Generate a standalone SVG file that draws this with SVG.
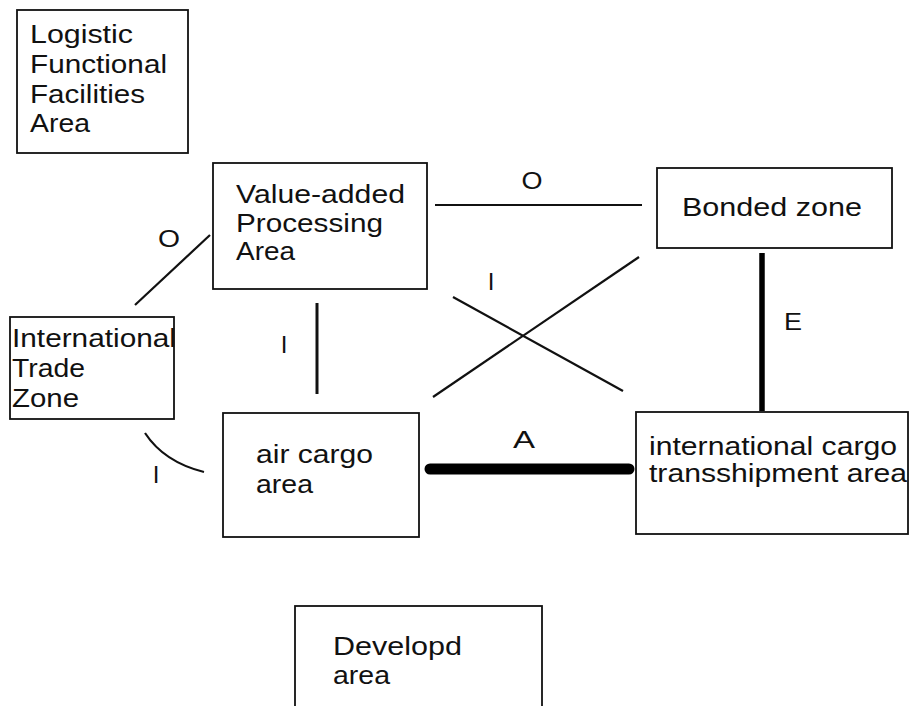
<svg xmlns="http://www.w3.org/2000/svg" width="911" height="706" viewBox="0 0 911 706">
  <style>
    .box { fill: #fff; stroke: #111; stroke-width: 1.8; }
    .txt { font-family: "Liberation Sans", Arial, Helvetica, sans-serif; font-size: 25.5px; fill: #111; }
    .lbl { font-family: "Liberation Sans", Arial, Helvetica, sans-serif; font-size: 24px; fill: #111; }
    .thin { stroke: #111; stroke-width: 2.2; fill: none; }
    .mid { stroke: #111; stroke-width: 3; fill: none; }
    .bold { stroke: #000; stroke-width: 5.5; fill: none; }
    .heavy { stroke: #000; stroke-width: 11; stroke-linecap: round; fill: none; }
  </style>
  <rect width="911" height="706" fill="#fff"/>

  <!-- relationships between the areas -->
  <g id="connectors">
    <line class="thin" x1="135" y1="305" x2="210" y2="235"/>
    <line class="thin" x1="435" y1="205" x2="642" y2="205"/>
    <line class="mid" x1="317" y1="303" x2="317" y2="394"/>
    <line class="thin" x1="453" y1="297" x2="623" y2="391"/>
    <line class="thin" x1="433" y1="397" x2="639" y2="257"/>
    <line class="bold" x1="762" y1="253" x2="762" y2="411"/>
    <path class="thin" d="M145 433 Q164 462 204 472" stroke-width="2.8"/>
    <line class="heavy" x1="430" y1="469" x2="629" y2="469"/>

    <text class="lbl" x="169" y="247" text-anchor="middle" textLength="22" lengthAdjust="spacingAndGlyphs">O</text>
    <text class="lbl" x="532" y="189" text-anchor="middle" textLength="21" lengthAdjust="spacingAndGlyphs">O</text>
    <text class="lbl" x="491" y="290" text-anchor="middle">I</text>
    <text class="lbl" x="284" y="353" text-anchor="middle">I</text>
    <text class="lbl" x="156" y="483" text-anchor="middle">I</text>
    <text class="lbl" x="793" y="330" text-anchor="middle" textLength="18" lengthAdjust="spacingAndGlyphs">E</text>
    <text class="lbl" x="524" y="448" text-anchor="middle" textLength="22" lengthAdjust="spacingAndGlyphs">A</text>
  </g>

  <g id="logistic-area">
    <rect class="box" x="17" y="10" width="171" height="143"/>
    <text class="txt" x="30" y="43" textLength="103" lengthAdjust="spacingAndGlyphs">Logistic</text>
    <text class="txt" x="30" y="73" textLength="137" lengthAdjust="spacingAndGlyphs">Functional</text>
    <text class="txt" x="30" y="103" textLength="115" lengthAdjust="spacingAndGlyphs">Facilities</text>
    <text class="txt" x="30" y="132" textLength="60" lengthAdjust="spacingAndGlyphs">Area</text>
  </g>

  <g id="value-added">
    <rect class="box" x="213" y="163" width="214" height="126"/>
    <text class="txt" x="236" y="203" textLength="169" lengthAdjust="spacingAndGlyphs">Value-added</text>
    <text class="txt" x="236" y="232" textLength="147" lengthAdjust="spacingAndGlyphs">Processing</text>
    <text class="txt" x="236" y="260" textLength="59" lengthAdjust="spacingAndGlyphs">Area</text>
  </g>

  <g id="bonded-zone">
    <rect class="box" x="657" y="168" width="235" height="80"/>
    <text class="txt" x="682" y="216" textLength="180" lengthAdjust="spacingAndGlyphs">Bonded zone</text>
  </g>

  <g id="trade-zone">
    <rect class="box" x="10" y="317" width="164" height="102"/>
    <text class="txt" x="12" y="347" textLength="164" lengthAdjust="spacingAndGlyphs">International</text>
    <text class="txt" x="12" y="377" textLength="73" lengthAdjust="spacingAndGlyphs">Trade</text>
    <text class="txt" x="12" y="407" textLength="67" lengthAdjust="spacingAndGlyphs">Zone</text>
  </g>

  <g id="air-cargo">
    <rect class="box" x="223" y="413" width="196" height="124"/>
    <text class="txt" x="256" y="463" textLength="117" lengthAdjust="spacingAndGlyphs">air cargo</text>
    <text class="txt" x="256" y="493" textLength="57" lengthAdjust="spacingAndGlyphs">area</text>
  </g>

  <g id="transshipment">
    <rect class="box" x="636" y="412" width="272" height="122"/>
    <text class="txt" x="649" y="455" textLength="248" lengthAdjust="spacingAndGlyphs">international cargo</text>
    <text class="txt" x="649" y="482" textLength="258" lengthAdjust="spacingAndGlyphs">transshipment area</text>
  </g>

  <g id="developed-area">
    <rect class="box" x="295" y="606" width="247" height="120"/>
    <text class="txt" x="333" y="655" textLength="129" lengthAdjust="spacingAndGlyphs">Developd</text>
    <text class="txt" x="333" y="684" textLength="57" lengthAdjust="spacingAndGlyphs">area</text>
  </g>
</svg>
